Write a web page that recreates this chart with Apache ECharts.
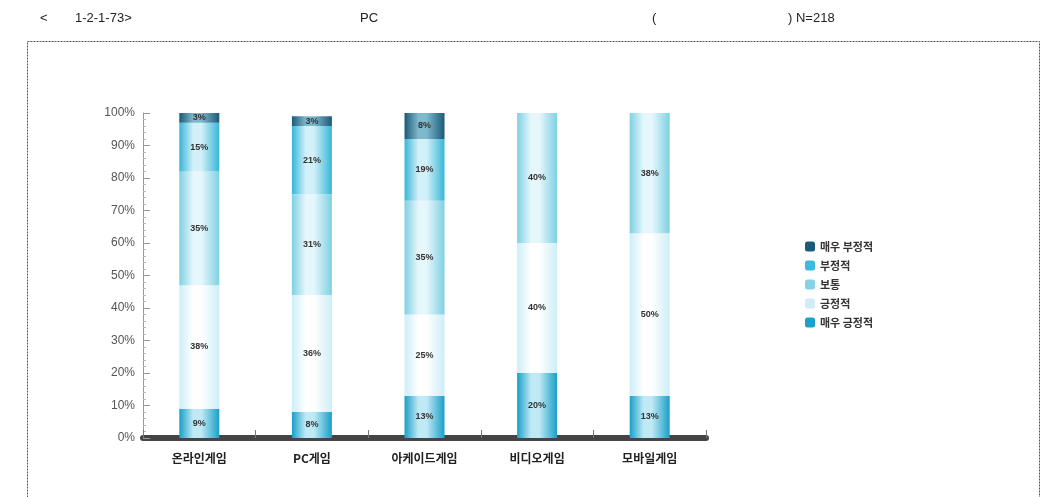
<!DOCTYPE html>
<html><head><meta charset="utf-8">
<script src="https://cdn.jsdelivr.net/npm/echarts@6/dist/echarts.min.js"></script>
<style>html,body{margin:0;padding:0;background:#fff}#c{width:1051px;height:497px}</style>
</head><body><div id="c"></div>
<script>
const categories = ['온라인게임', 'PC게임', '아케이드게임', '비디오게임', '모바일게임'];
const seriesNames = ['매우 긍정적', '긍정적', '보통', '부정적', '매우 부정적'];
const veryPositive = [9, 8, 13, 20, 13];
const positive = [38, 36, 25, 40, 50];
const neutral = [35, 31, 35, 40, 38];
const negative = [15, 21, 19, 0, 0];
const veryNegative = [3, 3, 8, 0, 0];
const yTicks = ['0%','10%','20%','30%','40%','50%','60%','70%','80%','90%','100%'];

const values = [veryPositive, positive, neutral, negative, veryNegative];
const legendColors = ['#1aa2cc', '#d0ecf6', '#86d3e6', '#3cbadb', '#1b5b79'];
function grad(edge, mid) {
  return new echarts.graphic.LinearGradient(0, 0, 1, 0, [
    {offset: 0, color: edge}, {offset: 0.35, color: mid}, {offset: 0.55, color: mid}, {offset: 1, color: edge}
  ]);
}
const fills = [
  grad('#1a9ec8', '#bfeaf5'),
  grad('#cdeef7', '#ffffff'),
  grad('#7fd0e4', '#e6f7fb'),
  grad('#38b6d8', '#d2f0f8'),
  grad('#1b5a78', '#7fb8cc')
];

const chart = echarts.init(document.getElementById('c'));
chart.setOption({
  animation: false,
  grid: {left: 143, right: 345, top: 113, bottom: 59},
  legend: {
    orient: 'vertical', left: 800, top: 236, itemWidth: 10, itemHeight: 10, itemGap: 8,
    data: seriesNames.map((n, i) => ({name: n, itemStyle: {color: legendColors[i]}})).reverse(),
    textStyle: {fontFamily: 'Noto Sans CJK KR', fontSize: 11, fontWeight: 'bold', color: '#333'}
  },
  xAxis: {
    type: 'category', data: categories,
    axisLine: {lineStyle: {color: '#444', width: 6}},
    axisTick: {show: true, inside: true, length: 8, lineStyle: {color: '#777'}},
    axisLabel: {fontFamily: 'Noto Sans CJK KR', fontSize: 12, fontWeight: 'bold', color: '#222', margin: 14}
  },
  yAxis: {
    type: 'value', min: 0, max: 100, interval: 10,
    axisLine: {show: true, lineStyle: {color: '#999'}},
    axisTick: {show: true, inside: true, length: 7, lineStyle: {color: '#999'}},
    minorTick: {show: true, splitNumber: 5, length: 3, lineStyle: {color: '#bbb'}},
    splitLine: {show: false},
    axisLabel: {formatter: (v) => yTicks[v / 10], fontFamily: 'Liberation Sans', fontSize: 12, color: '#555', margin: 8}
  },
  series: seriesNames.map((name, i) => ({
    name, type: 'bar', stack: 'all', barWidth: 40,
    data: values[i].map(v => v === 0 ? null : v),
    itemStyle: {color: fills[i]},
    label: {show: true, position: 'inside', formatter: '{c}%', fontFamily: 'Liberation Sans', fontSize: 9, fontWeight: 'bold', color: '#333'}
  })),
  graphic: [
    {type: 'rect', shape: {x: 27.5, y: 41.5, width: 1012, height: 470}, style: {fill: null, stroke: '#555', lineWidth: 1, lineDash: [2, 1]}},
    {type: 'text', left: 40, top: 12, style: {text: '<', font: '13px "Liberation Sans"', fill: '#222'}},
    {type: 'text', left: 75, top: 12, style: {text: '1-2-1-73>', font: '13px "Liberation Sans"', fill: '#222'}},
    {type: 'text', left: 360, top: 12, style: {text: 'PC', font: '13px "Liberation Sans"', fill: '#222'}},
    {type: 'text', left: 652, top: 12, style: {text: '(', font: '13px "Liberation Sans"', fill: '#222'}},
    {type: 'text', left: 788, top: 12, style: {text: ') N=218', font: '13px "Liberation Sans"', fill: '#222'}}
  ]
});
</script></body></html>
